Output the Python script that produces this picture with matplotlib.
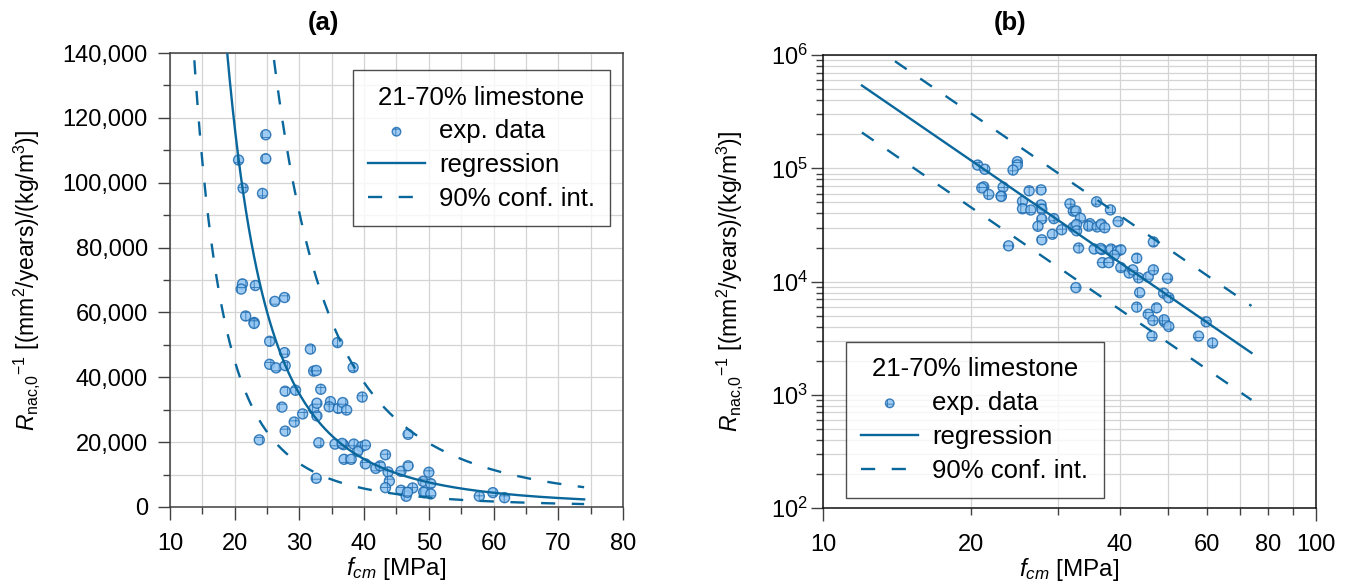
import matplotlib
matplotlib.use("Agg")
import matplotlib.pyplot as plt
import matplotlib.ticker as mticker
import numpy as np

plt.rcParams['font.family'] = ['Liberation Sans', 'DejaVu Sans']
plt.rcParams['font.size'] = 17
plt.rcParams['mathtext.fontset'] = 'custom'
plt.rcParams['mathtext.rm'] = 'Liberation Sans'
plt.rcParams['mathtext.it'] = 'Liberation Sans:italic'
plt.rcParams['mathtext.bf'] = 'Liberation Sans:bold'
plt.rcParams['hatch.linewidth'] = 0.6

fcm = [24.8, 20.6, 24.8, 21.3, 24.3, 21.2, 21.0, 23.2, 26.2, 27.7,
       21.7, 23.0, 23.0, 25.4, 31.7, 35.9, 27.7, 25.4, 26.4, 27.8,
       32.2, 32.6, 38.3, 27.8, 29.4, 33.3, 39.7, 27.3, 32.2, 32.7,
       34.8, 34.6, 36.0, 36.7, 37.3, 30.5, 32.7, 29.2, 27.8, 23.8,
       33.0, 35.5, 36.8, 36.6, 38.4, 39.6, 40.2, 39.0, 36.9, 38.0,
       40.2, 43.3, 41.8, 42.5, 43.7, 45.7, 46.8, 43.9, 50.0, 49.1,
       50.3, 32.6, 43.3, 45.7, 47.5, 46.5, 46.7, 49.3, 49.2, 50.3,
       57.8, 59.9, 61.7, 46.8]
rnac = [114800, 107000, 107400, 98300, 96700, 68800, 67200, 68300, 63400, 64600,
        58900, 56900, 56600, 51100, 48700, 50700, 47600, 44000, 42900, 43600,
        41900, 42100, 43000, 35700, 36000, 36300, 33900, 30800, 30200, 32000,
        32500, 30900, 30400, 32200, 29900, 28700, 28100, 26200, 23400, 20700,
        19800, 19400, 19200, 19600, 19400, 18600, 19100, 17100, 14700, 14700,
        13300, 16100, 11900, 12700, 10800, 11000, 12700, 8000, 10700, 7900,
        7200, 8850, 5950, 5150, 5860, 3300, 4530, 4410, 4600, 4010,
        3300, 4410, 2870, 22400]

# regression R = a * fcm^b, band = factor up/down
reg_a = 9.1e8
reg_b = -2.99
ci_factor = 2.6
reg_range = (12, 74)
upper_range = (14, 74)
lower_range = (12, 74)

line_col = '#0a679c'
face_col = '#8fc4f2'
edge_col = '#1f6cb0'
grid_col = '#d4d4d4'
spine_col = '#404040'

legend_title = '21-70% limestone'
ylab = r'$R_{\mathrm{nac{,}0}}{}^{\mathrm{-1}}$ [(mm$^{\mathrm{2}}$/years)/(kg/m$^{\mathrm{3}}$)]'
xlab = r'$f_{cm}$ [MPa]'

xr = np.linspace(*reg_range, 300)
xu = np.linspace(*upper_range, 300)
xl = np.linspace(*lower_range, 300)
yr = reg_a * xr ** reg_b
yu = ci_factor * reg_a * xu ** reg_b
yl = reg_a * xl ** reg_b / ci_factor

fig = plt.figure(figsize=(13.49, 5.88), dpi=100)
axa = fig.add_axes([0.126, 0.1378, 0.3358, 0.772])
axb = fig.add_axes([0.610, 0.1361, 0.3655, 0.770])


def draw(ax):
    ax.set_axisbelow(True)
    ax.scatter(fcm, rnac, s=52, facecolor=face_col, edgecolor=edge_col,
               linewidth=1.0, alpha=0.85, hatch='++', zorder=3, label='exp. data')
    ax.plot(xr, yr, color=line_col, lw=1.7, zorder=4, label='regression')
    ax.plot(xu, yu, color=line_col, lw=1.7, ls=(0, (6, 7)), zorder=4,
            label='90% conf. int.')
    ax.plot(xl, yl, color=line_col, lw=1.7, ls=(0, (6, 7)), zorder=4)
    for s in ax.spines.values():
        s.set_color(spine_col)
        s.set_linewidth(1.1)
    ax.tick_params(which='major', direction='out', length=9, width=1, color=spine_col)
    ax.tick_params(which='minor', direction='out', length=5, width=1, color=spine_col)
    ax.grid(True, which='both', color=grid_col, lw=0.9)
    ax.set_xlabel(xlab, fontsize=17.5, labelpad=0)
    ax.set_ylabel(ylab, fontsize=16.5)


def add_legend(ax, **kw):
    leg = ax.legend(title=legend_title, borderaxespad=0, fancybox=False,
                    edgecolor='#202020', fontsize=18.5, title_fontsize=18.5,
                    handlelength=2.2, handletextpad=0.55, labelspacing=0.38,
                    borderpad=0.6, markerscale=0.85, **kw)
    leg.get_frame().set_linewidth(1.0)


draw(axa)
axa.set_xlim(10, 80)
axa.set_ylim(0, 140000)
axa.xaxis.set_major_locator(mticker.MultipleLocator(10))
axa.xaxis.set_minor_locator(mticker.MultipleLocator(5))
axa.yaxis.set_major_locator(mticker.MultipleLocator(20000))
axa.yaxis.set_minor_locator(mticker.MultipleLocator(10000))
axa.yaxis.set_major_formatter(mticker.FuncFormatter(lambda v, p: f'{v:,.0f}'))
axa.tick_params(axis='x', which='major', pad=10)
axa.tick_params(axis='y', which='major', pad=7)
axa.yaxis.set_label_coords(-0.283, 0.5)
add_legend(axa, loc='upper right', bbox_to_anchor=(0.972, 0.962))

draw(axb)
axb.set_xscale('log')
axb.set_yscale('log')
axb.set_xlim(10, 100)
axb.set_ylim(1e2, 1e6)
axb.xaxis.set_major_locator(mticker.FixedLocator([10, 100]))
axb.xaxis.set_minor_locator(mticker.FixedLocator([20, 30, 40, 50, 60, 70, 80, 90]))
axb.xaxis.set_major_formatter(mticker.FixedFormatter(['10', '100']))
axb.xaxis.set_minor_formatter(mticker.FixedFormatter(['20', '', '40', '', '60', '', '80', '']))
axb.tick_params(axis='x', which='minor', length=5, pad=14)
axb.tick_params(axis='x', which='major', length=9, pad=10)
axb.yaxis.set_major_locator(mticker.LogLocator(base=10, numticks=10))
axb.yaxis.set_minor_locator(mticker.LogLocator(base=10, subs=np.arange(2, 10), numticks=20))
axb.yaxis.set_minor_formatter(mticker.NullFormatter())
axb.tick_params(axis='y', which='major', length=9, pad=1.5)
axb.yaxis.set_label_coords(-0.158, 0.5)
axb.grid(True, which='major', axis='x', color=grid_col, lw=0.9)
for s in axb.spines.values():
    s.set_color('#101010')
add_legend(axb, loc='lower left', bbox_to_anchor=(0.047, 0.022))

fig.text(323 / 1349, 1 - 23 / 588, '(a)', ha='center', va='center', weight='bold',
         fontsize=18.5)
fig.text(1010 / 1349, 1 - 23 / 588, '(b)', ha='center', va='center', weight='bold',
         fontsize=18.5)

fig.savefig('out.png', dpi=100)
